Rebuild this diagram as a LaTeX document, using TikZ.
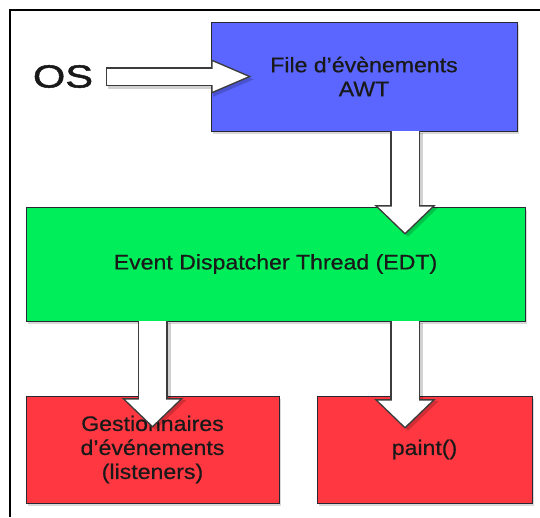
\documentclass[tikz,border=0pt]{standalone}
\usepackage{fontspec}
\setmainfont[FakeStretch=1.1, FakeBold=0.6]{Liberation Sans}
\newfontfamily\osfont[FakeStretch=1.3, FakeBold=1.5]{Liberation Sans}
\usepackage{tikz}
\usetikzlibrary{arrows.meta,shadows}
\definecolor{awtblue}{RGB}{90,102,255}
\definecolor{edtgreen}{RGB}{0,238,90}
\definecolor{handred}{RGB}{255,55,65}
\definecolor{boxedge}{RGB}{40,40,50}
\definecolor{arrowedge}{RGB}{60,60,60}
\tikzset{
  box/.style={
    draw=boxedge,
    line width=0.8pt,
    align=center,
    inner sep=0pt,
    text=black!90,
    font=\fontsize{21}{24}\selectfont,
    drop shadow={shadow xshift=1.5pt, shadow yshift=-3pt, opacity=0.3}
  },
  bluebox/.style={box, fill=awtblue},
  greenbox/.style={box, fill=edtgreen},
  redbox/.style={box, fill=handred},
  bigarrow/.style={
    draw=white, line width=27pt,
    -{Triangle[length=26pt, width=54pt, line width=0pt]},
    preaction={draw=black, opacity=0.18, line width=30pt, shorten >=-2.1pt,
      transform canvas={xshift=3pt, yshift=-2pt},
      -{Triangle[length=29.6pt, width=61.4pt, line width=0pt]}},
    preaction={draw=arrowedge, line width=30pt, shorten >=-2.1pt,
      -{Triangle[length=29.6pt, width=61.4pt, line width=0pt]}},
    postaction={draw=white, line width=27pt, -, shorten >=18pt}
  },
  osarrow/.style={
    draw=white, line width=16pt,
    -{Triangle[length=35pt, width=30pt, line width=0pt]},
    preaction={draw=black, opacity=0.18, line width=19pt, shorten >=-3.8pt,
      shorten <=-1.5pt, transform canvas={xshift=2pt, yshift=-3pt},
      -{Triangle[length=40.3pt, width=34.5pt, line width=0pt]}},
    preaction={draw=arrowedge, line width=19pt, shorten >=-3.8pt,
      shorten <=-1.5pt,
      -{Triangle[length=40.3pt, width=34.5pt, line width=0pt]}},
    postaction={draw=white, line width=16pt, -, shorten >=25pt}
  }
}
\begin{document}
\begin{tikzpicture}[x=1pt, y=1pt]
  \useasboundingbox (0,0) rectangle (540,-517);
  \draw[line width=2.5pt] (540,-10) -- (10,-10) -- (10,-517);

  \node[inner sep=0pt, font=\osfont\fontsize{32}{32}\selectfont, text=black!90] (os) at (63,-76.5) {OS};
  \node[bluebox, minimum width=306pt, minimum height=109pt] (awt) at (364,-76.5) {File d'évènements\\AWT};
  \node[greenbox, minimum width=499pt, minimum height=114pt] (edt) at (275.5,-264) {Event Dispatcher Thread (EDT)};
  \node[redbox, minimum width=253pt, minimum height=107pt] (listen) at (152.5,-449.5) {Gestionnaires\\d'événements\\(listeners)};
  \node[redbox, minimum width=215pt, minimum height=107pt] (paint) at (424.5,-449.5) {paint()};

  \draw[osarrow] ([xshift=14pt]os.east) -- ([xshift=37pt]awt.west);
  \draw[bigarrow] ([xshift=41pt]awt.south) -- ([xshift=129.5pt,yshift=-26pt]edt.north);
  \draw[bigarrow] (listen.north |- edt.south) -- ([yshift=-30pt]listen.north);
  \draw[bigarrow] ([xshift=129.5pt]edt.south) -- ([xshift=-19.5pt,yshift=-31pt]paint.north);
\end{tikzpicture}
\end{document}
